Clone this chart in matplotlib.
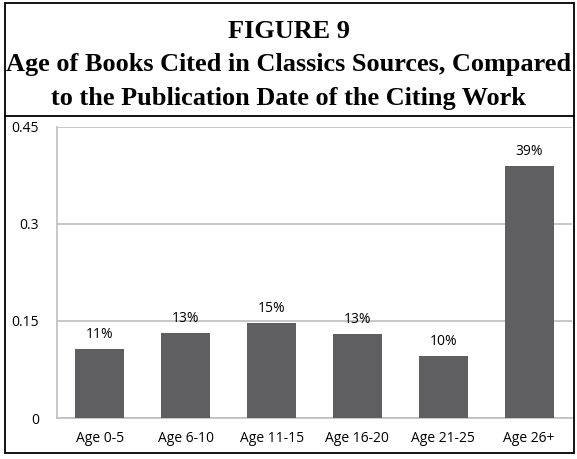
import numpy as np
import matplotlib.pyplot as plt
from matplotlib.patches import Rectangle

categories = ["Age 0-5", "Age 6-10", "Age 11-15", "Age 16-20", "Age 21-25", "Age 26+"]
values = [0.107, 0.131, 0.147, 0.130, 0.096, 0.389]
labels = ["11%", "13%", "15%", "13%", "10%", "39%"]
yticks = [0, 0.15, 0.3, 0.45]
ytick_labels = ["0", "0.15", "0.3", "0.45"]

W, H = 577, 459
fig = plt.figure(figsize=(W / 100, H / 100), dpi=100)

# outer frame and title box
fig.patches.append(Rectangle((5 / W, 1 - 453 / H), 569 / W, 450 / H, transform=fig.transFigure,
                             fill=False, edgecolor="black", linewidth=1.3))
fig.lines.append(plt.Line2D([5 / W, 574 / W], [1 - 116 / H, 1 - 116 / H],
                            transform=fig.transFigure, color="black", linewidth=1.3))

title_font = dict(family="Liberation Serif", weight="bold", fontsize=18.9, ha="center", va="center")
fig.text(0.5, 1 - 32 / H, "FIGURE 9", **title_font)
fig.text(0.5, 1 - 65 / H, "Age of Books Cited in Classics Sources, Compared", **title_font)
fig.text(0.5, 1 - 98 / H, "to the Publication Date of the Citing Work", **title_font)

left, right, bottom, top = 57, 572, 418, 127
ax = fig.add_axes([left / W, 1 - bottom / H, (right - left) / W, (bottom - top) / H])

x = np.arange(len(categories))
ax.bar(x, values, width=0.57, color="#5f5f61", zorder=3)
for xi, v, lab in zip(x, values, labels):
    ax.text(xi, v + 0.011, lab, ha="center", va="bottom", fontsize=10, family="Open Sans", zorder=4)

ax.set_xlim(-0.5, len(categories) - 0.5)
ax.set_ylim(0, 0.45)
ax.set_yticks(yticks)
ax.set_yticklabels(ytick_labels, family="Open Sans", fontsize=10)
ax.set_xticks(x)
ax.set_xticklabels(categories, family="Open Sans", fontsize=10)
ax.tick_params(length=0, pad=9)
ax.tick_params(axis="y", pad=13)
ax.grid(axis="y", color="#bfbfbf", linewidth=1.2, zorder=0)
for s in ["top", "right"]:
    ax.spines[s].set_visible(False)
ax.spines["left"].set_color("#bfbfbf")
ax.spines["bottom"].set_color("#bfbfbf")
ax.spines["left"].set_linewidth(1.2)
ax.spines["bottom"].set_linewidth(1.2)

fig.savefig("out.png", dpi=100)
